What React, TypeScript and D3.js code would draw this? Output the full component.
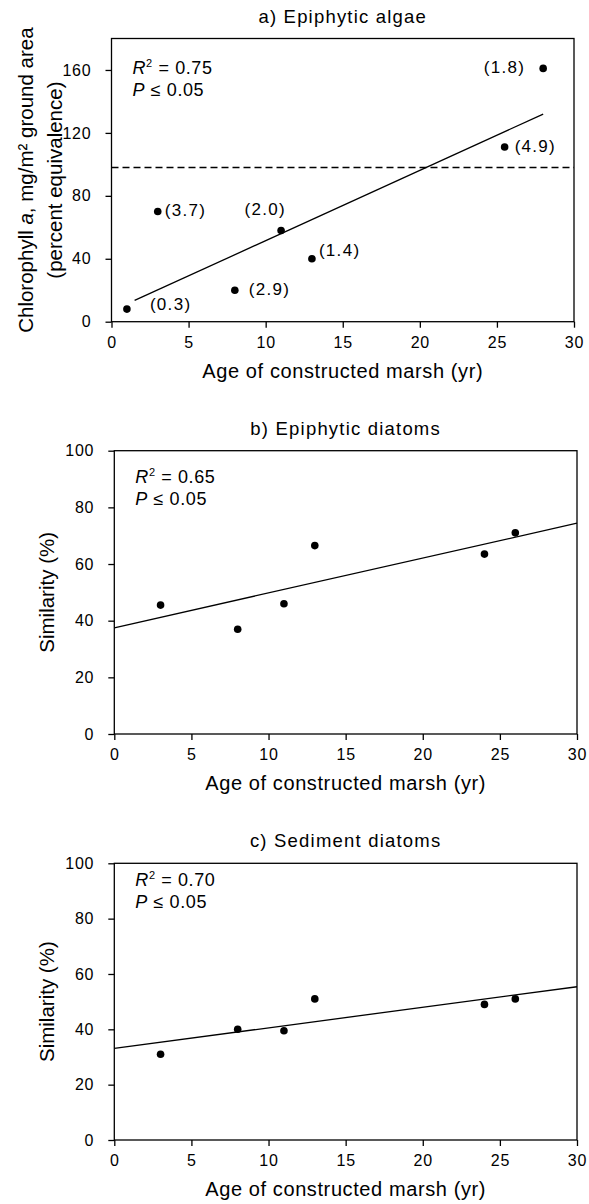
import React, { useEffect, useRef } from "react";
import * as d3 from "d3";

const FONT = "'Liberation Sans', Arial, Helvetica, sans-serif";

// shared x axis (age of the constructed marsh, yr)
const ageTicks = [0, 5, 10, 15, 20, 25, 30];

// a) epiphytic algae
const algaeAge = [1, 3, 8, 11, 13, 25.5, 28];
const algaeChl = [8, 70, 20, 58, 40, 111, 161];
const algaeNotes = ["(0.3)", "(3.7)", "(2.9)", "(2.0)", "(1.4)", "(4.9)", "(1.8)"];
const algaeTicks = [0, 40, 80, 120, 160];
const algaeReference = 98;
const algaeFit = { from: 1.5, to: 28, intercept: 6.8, slope: 4.47 };
const algaeStats = ["0.75", "0.05"];

// b) epiphytic diatoms, c) sediment diatoms
const diatomAge = [3, 8, 11, 13, 24, 26];
const epiphyticSim = [45.5, 37, 46, 66.5, 63.5, 71];
const sedimentSim = [31, 40, 39.5, 51, 49, 51];
const simTicks = [0, 20, 40, 60, 80, 100];
const epiphyticFit = { from: 0, to: 30, intercept: 37.5, slope: 1.23 };
const sedimentFit = { from: 0, to: 30, intercept: 33.1, slope: 0.743 };
const epiphyticStats = ["0.65", "0.05"];
const sedimentStats = ["0.70", "0.05"];

// where each number in panel a sits relative to its dot
const notePlace = [
  { dx: 23, dy: -4, anchor: "start" },
  { dx: 7, dy: 0, anchor: "start" },
  { dx: 14, dy: 0, anchor: "start" },
  { dx: 5, dy: -20, anchor: "end" },
  { dx: 7, dy: -7, anchor: "start" },
  { dx: 10, dy: 0, anchor: "start" },
  { dx: -18, dy: 0, anchor: "end" },
];

function Panel(props) {
  const ref = useRef(null);
  const { frame, title, ages, values, yMax, yTicks, fit, stats, statsY, notes, reference, yTitle } = props;

  useEffect(() => {
    const g = d3.select(ref.current);
    g.selectAll("*").remove();

    const x = d3.scaleLinear().domain([0, 30]).range([frame.left, frame.right]);
    const y = d3.scaleLinear().domain([0, yMax]).range([frame.bottom, frame.top]);

    g.append("rect")
      .attr("x", frame.left)
      .attr("y", frame.top)
      .attr("width", frame.right - frame.left)
      .attr("height", frame.bottom - frame.top)
      .attr("fill", "none")
      .attr("stroke", "#000")
      .attr("stroke-width", 1.3);

    // axes, ticks pointing out
    const xa = g.append("g")
      .attr("transform", `translate(0,${frame.bottom})`)
      .call(d3.axisBottom(x).tickValues(ageTicks).tickSize(6).tickSizeOuter(0).tickPadding(9));
    const ya = g.append("g")
      .attr("transform", `translate(${frame.left},0)`)
      .call(d3.axisLeft(y).tickValues(yTicks).tickSize(6).tickSizeOuter(0).tickPadding(14));
    [xa, ya].forEach(a => {
      a.select(".domain").remove();
      a.selectAll("line").attr("stroke", "#000").attr("stroke-width", 1.3);
      a.selectAll("text")
        .attr("fill", "#000")
        .style("font-family", FONT)
        .style("font-size", "16px")
        .style("letter-spacing", "0.8px");
    });

    if (reference != null) {
      g.append("line")
        .attr("x1", x(0))
        .attr("x2", x(30))
        .attr("y1", y(reference))
        .attr("y2", y(reference))
        .attr("stroke", "#000")
        .attr("stroke-width", 1.3)
        .attr("stroke-dasharray", "7,4");
    }

    const line = d3.line().x(d => x(d)).y(d => y(fit.intercept + fit.slope * d));
    g.append("path")
      .attr("d", line([fit.from, fit.to]))
      .attr("fill", "none")
      .attr("stroke", "#000")
      .attr("stroke-width", 1.3);

    g.selectAll("circle")
      .data(ages)
      .join("circle")
      .attr("cx", d => x(d))
      .attr("cy", (d, i) => y(values[i]))
      .attr("r", 3.8)
      .attr("fill", "#000");

    if (notes) {
      g.selectAll(".note")
        .data(notes)
        .join("text")
        .attr("class", "note")
        .attr("x", (d, i) => x(ages[i]) + notePlace[i].dx)
        .attr("y", (d, i) => y(values[i]) + notePlace[i].dy + 4.5)
        .attr("text-anchor", (d, i) => notePlace[i].anchor)
        .style("font-family", FONT)
        .style("font-size", "17px")
        .style("letter-spacing", "1.3px")
        .text(d => d);
    }

    // R² and P
    const s1 = g.append("text")
      .attr("x", frame.left + 21)
      .attr("y", frame.top + statsY)
      .style("font-family", FONT)
      .style("font-size", "18px")
      .style("letter-spacing", "0.6px");
    s1.append("tspan").style("font-style", "italic").text("R");
    s1.append("tspan").style("font-size", "11px").attr("dy", -7).text("2");
    s1.append("tspan").attr("dy", 7).text(" = " + stats[0]);
    const s2 = g.append("text")
      .attr("x", frame.left + 21)
      .attr("y", frame.top + statsY + 22)
      .style("font-family", FONT)
      .style("font-size", "18px")
      .style("letter-spacing", "0.6px");
    s2.append("tspan").style("font-style", "italic").text("P");
    s2.append("tspan").text(" \u2264 " + stats[1]);

    const midX = (frame.left + frame.right) / 2;
    const midY = (frame.top + frame.bottom) / 2;

    g.append("text")
      .attr("x", midX)
      .attr("y", frame.top - 16)
      .attr("text-anchor", "middle")
      .style("font-family", FONT)
      .style("font-size", "18.5px")
      .style("letter-spacing", "1.2px")
      .text(title);

    g.append("text")
      .attr("x", midX)
      .attr("y", frame.bottom + 56)
      .attr("text-anchor", "middle")
      .style("font-family", FONT)
      .style("font-size", "20px")
      .style("letter-spacing", "0.6px")
      .text("Age of constructed marsh (yr)");

    // y title, one or two lines
    yTitle.forEach(parts => {
      const t = g.append("text")
        .attr("transform", `translate(${parts.x},${midY}) rotate(-90)`)
        .attr("text-anchor", "middle")
        .style("font-family", FONT)
        .style("font-size", "20.5px");
      parts.spans.forEach(s => {
        const ts = t.append("tspan").text(s.t);
        if (s.i) ts.style("font-style", "italic");
      });
    });
  }, []);

  return <g ref={ref}></g>;
}

export default function App() {
  return (
    <svg width={589} height={1204} style={{ position: "absolute", left: 0, top: 0, background: "#fff" }}>
      <Panel
        frame={{ left: 111.5, right: 574, top: 38.5, bottom: 321.7 }}
        title="a) Epiphytic algae"
        ages={algaeAge}
        values={algaeChl}
        yMax={180}
        yTicks={algaeTicks}
        fit={algaeFit}
        stats={algaeStats}
        statsY={35.5}
        notes={algaeNotes}
        reference={algaeReference}
        yTitle={[
          { x: 33, spans: [{ t: "Chlorophyll " }, { t: "a", i: true }, { t: ", mg/m\u00b2 ground area" }] },
          { x: 62, spans: [{ t: "(percent equivalence)" }] },
        ]}
      />
      <Panel
        frame={{ left: 114.3, right: 577, top: 450.7, bottom: 734 }}
        title="b) Epiphytic diatoms"
        ages={diatomAge}
        values={epiphyticSim}
        yMax={100}
        yTicks={simTicks}
        fit={epiphyticFit}
        stats={epiphyticStats}
        statsY={32}
        yTitle={[{ x: 54, spans: [{ t: "Similarity (%)" }] }]}
      />
      <Panel
        frame={{ left: 114.3, right: 577, top: 863.3, bottom: 1140 }}
        title="c) Sediment diatoms"
        ages={diatomAge}
        values={sedimentSim}
        yMax={100}
        yTicks={simTicks}
        fit={sedimentFit}
        stats={sedimentStats}
        statsY={23}
        yTitle={[{ x: 54, spans: [{ t: "Similarity (%)" }] }]}
      />
    </svg>
  );
}
